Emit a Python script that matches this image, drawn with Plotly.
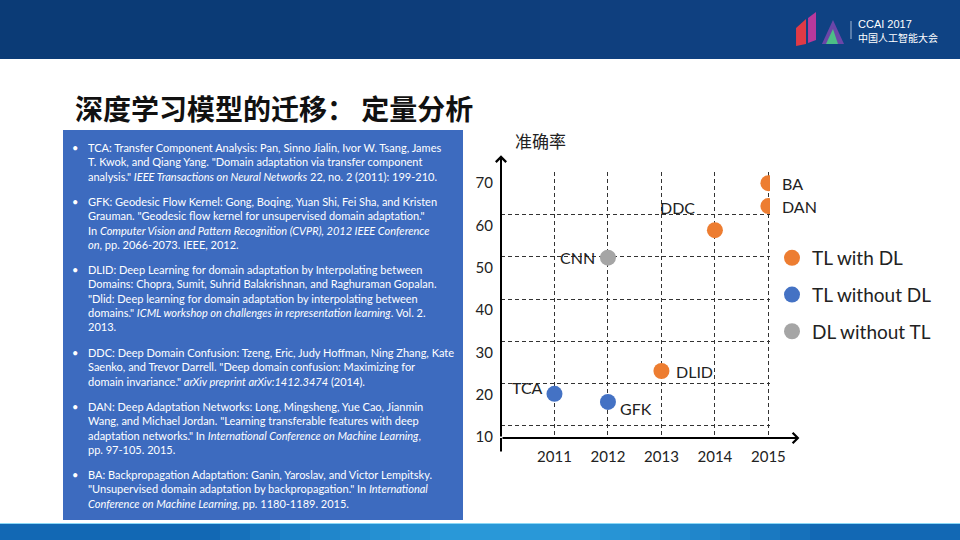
import plotly.graph_objects as go

# data
methods = ['TCA', 'GFK', 'CNN', 'DLID', 'DDC', 'DAN', 'BA']
years = [2011, 2012, 2012, 2013, 2014, 2015, 2015]
accuracy = [20.2, 18.3, 52.4, 25.6, 58.9, 64.6, 70.0]
groups = ['TL without DL', 'TL without DL', 'DL without TL', 'TL with DL',
          'TL with DL', 'TL with DL', 'TL with DL']
group_order = ['TL with DL', 'TL without DL', 'DL without TL']
year_ticks = [2011, 2012, 2013, 2014, 2015]
acc_ticks = [10, 20, 30, 40, 50, 60, 70]
grid_levels = [12.6, 22.6, 32.6, 42.6, 52.6, 62.6, 72.6]

refs = [
    'TCA: Transfer Component Analysis: Pan, Sinno Jialin, Ivor W. Tsang, James<br>'
    'T. Kwok, and Qiang Yang. "Domain adaptation via transfer component<br>'
    'analysis." <i>IEEE Transactions on Neural Networks</i> 22, no. 2 (2011): 199-210.',
    'GFK: Geodesic Flow Kernel: Gong, Boqing, Yuan Shi, Fei Sha, and Kristen<br>'
    'Grauman. "Geodesic flow kernel for unsupervised domain adaptation."<br>'
    'In <i>Computer Vision and Pattern Recognition (CVPR), 2012 IEEE Conference</i><br>'
    '<i>on</i>, pp. 2066-2073. IEEE, 2012.',
    'DLID: Deep Learning for domain adaptation by Interpolating between<br>'
    'Domains: Chopra, Sumit, Suhrid Balakrishnan, and Raghuraman Gopalan.<br>'
    '"Dlid: Deep learning for domain adaptation by interpolating between<br>'
    'domains." <i>ICML workshop on challenges in representation learning</i>. Vol. 2.<br>'
    '2013.',
    'DDC: Deep Domain Confusion: Tzeng, Eric, Judy Hoffman, Ning Zhang, Kate<br>'
    'Saenko, and Trevor Darrell. "Deep domain confusion: Maximizing for<br>'
    'domain invariance." <i>arXiv preprint arXiv:1412.3474</i> (2014).',
    'DAN: Deep Adaptation Networks: Long, Mingsheng, Yue Cao, Jianmin<br>'
    'Wang, and Michael Jordan. "Learning transferable features with deep<br>'
    'adaptation networks." In <i>International Conference on Machine Learning</i>,<br>'
    'pp. 97-105. 2015.',
    'BA: Backpropagation Adaptation: Ganin, Yaroslav, and Victor Lempitsky.<br>'
    '"Unsupervised domain adaptation by backpropagation." In <i>International</i><br>'
    '<i>Conference on Machine Learning</i>, pp. 1180-1189. 2015.',
]

colors = {'TL with DL': '#ED7D31', 'TL without DL': '#4472C4', 'DL without TL': '#A5A5A5'}
# where each point label sits relative to its dot: (xanchor, xshift, yshift)
label_pos = {'TCA': ('right', -9, 6), 'GFK': ('left', 10, -7), 'CNN': ('right', -11, 0),
             'DLID': ('left', 13, 0), 'DDC': ('right', -18, 23), 'DAN': ('left', 12, 0),
             'BA': ('left', 12, 0)}

W, H = 960, 540
def px(x):
    return x / W
def py(y):
    return 1 - y / H

latin = 'Lato'
cjk = 'Noto Sans CJK SC'
ink = '#222222'

fig = go.Figure()
for g in group_order:
    idx = [i for i, gg in enumerate(groups) if gg == g]
    fig.add_trace(go.Scatter(x=[years[i] for i in idx], y=[accuracy[i] for i in idx],
                             mode='markers', name=g, legendgroup=g, yaxis='y2',
                             marker=dict(color=colors[g], size=16, line=dict(width=0))))

for m, x, y in zip(methods, years, accuracy):
    xa, xs, ys = label_pos[m]
    fig.add_annotation(x=x, y=y, xref='x', yref='y2', text=m, showarrow=False, xanchor=xa,
                       yanchor='middle', xshift=xs, yshift=ys,
                       font=dict(family=latin, size=16, color=ink))

# axis arrows (one end must stay inside the range or plotly hides the annotation)
y_lo, y_hi = 9.76, 72.65
arrow = dict(xref='x', yref='y', axref='x', ayref='y', text='', showarrow=True, arrowsize=1,
             arrowwidth=2, arrowcolor='black', standoff=0, startstandoff=0)
fig.add_annotation(x=2015.58, y=y_lo, ax=2010, ay=y_lo, arrowhead=4, **arrow)
fig.add_annotation(x=2010, y=76.6, ax=2010, ay=y_lo, arrowhead=4, **arrow)
fig.add_annotation(x=2010, y=y_lo, ax=2010, ay=6.2, arrowhead=0, **arrow)
fig.add_annotation(x=px(540), y=py(141), xref='paper', yref='paper', text='准确率', showarrow=False,
                   xanchor='center', yanchor='middle', font=dict(family=cjk, size=17, color=ink))

# slide decoration: header band, footer band, reference box, logo
shapes = [
    dict(type='rect', x0=0, x1=1, y0=py(59), y1=1, fillcolor='#0b3b76', line_width=0),
    dict(type='rect', x0=0, x1=1, y0=0, y1=py(523), fillcolor='#1268b4', line_width=0),
    dict(type='rect', x0=0, x1=1, y0=py(524), y1=py(523), fillcolor='#8ad8f6', line_width=0),
    dict(type='rect', x0=px(63), x1=px(463), y0=py(520), y1=py(130), fillcolor='#3d6bbf', line_width=0),
    dict(type='line', x0=px(851), x1=px(851), y0=py(39), y1=py(21), line=dict(color='white', width=1)),
]
for k in range(8):
    shapes.append(dict(type='rect', x0=px(300 + 80 * k), x1=1, y0=py(59), y1=1,
                       fillcolor='#1a5aa0', opacity=0.07, line_width=0))
    shapes.append(dict(type='rect', x0=px(430 - 30 * k), x1=px(600 + 30 * k), y0=0, y1=py(524),
                       fillcolor='#3ab4f2', opacity=0.12, line_width=0))
logo = [
    ([(796, 28), (806, 19), (806, 44), (796, 46)], '#e03a46'),
    ([(808, 18), (816, 12), (816, 40), (808, 43)], '#b8399c'),
    ([(822, 44), (833, 20), (844, 44)], '#6b46a8'),
    ([(826, 44), (833, 29), (838, 44)], '#4cbf86'),
]
for pts, c in logo:
    path = 'M ' + ' L '.join(f'{px(a):.4f},{py(b):.4f}' for a, b in pts) + ' Z'
    shapes.append(dict(type='path', path=path, fillcolor=c, line_width=0))
for s in shapes:
    s['xref'] = 'paper'
    s['yref'] = 'paper'
    s['layer'] = 'below'
fig.update_layout(shapes=shapes)

fig.add_annotation(x=px(856), y=py(24), xref='paper', yref='paper', text='CCAI 2017', showarrow=False,
                   xanchor='left', yanchor='middle',
                   font=dict(family='Liberation Sans', size=11, color='white'))
fig.add_annotation(x=px(856), y=py(37), xref='paper', yref='paper', text='中国人工智能大会', showarrow=False,
                   xanchor='left', yanchor='middle', font=dict(family=cjk, size=10, color='white'))
fig.add_annotation(x=px(73), y=py(108), xref='paper', yref='paper', text='<b>深度学习模型的迁移： 定量分析</b>',
                   showarrow=False, xanchor='left', yanchor='middle',
                   font=dict(family=cjk, size=28, color='#111111'))

ref_tops = [139, 193, 261, 344, 398, 466]
for t, top in zip(refs, ref_tops):
    fig.add_annotation(x=px(70), y=py(top), xref='paper', yref='paper', text='•', showarrow=False,
                       xanchor='left', yanchor='top', font=dict(family=latin, size=11, color='white'))
    fig.add_annotation(x=px(86), y=py(top), xref='paper', yref='paper', text=t, showarrow=False,
                       xanchor='left', yanchor='top', align='left',
                       font=dict(family=latin, size=11, color='white'))

dash_grid = dict(showgrid=True, gridcolor='#333333', griddash='4px,3px', gridwidth=1, zeroline=False)
fig.update_layout(
    width=W, height=H, margin=dict(l=0, r=0, t=0, b=0, autoexpand=False),
    paper_bgcolor='white', plot_bgcolor='white',
    xaxis=dict(domain=[px(501), px(770)], range=[2010, 2015.03], tickvals=year_ticks,
               ticks='outside', ticklen=5, tickcolor='rgba(0,0,0,0)', showline=False,
               tickfont=dict(family=latin, size=15, color=ink), **dash_grid),
    # grid-only axis
    yaxis=dict(domain=[py(438), py(172)], range=[y_lo, y_hi], tickvals=grid_levels,
               showticklabels=False, **dash_grid),
    # labelled accuracy axis
    yaxis2=dict(overlaying='y', side='left', anchor='x', range=[y_lo, y_hi], tickvals=acc_ticks,
                showgrid=False, zeroline=False, ticks='outside', ticklen=4,
                tickcolor='rgba(0,0,0,0)', tickfont=dict(family=latin, size=15, color=ink)),
    legend=dict(x=px(772), y=py(239), xanchor='left', yanchor='top', bgcolor='rgba(0,0,0,0)',
                font=dict(family=latin, size=19, color=ink), tracegroupgap=9),
    showlegend=True,
)

fig.write_html('out.html', config={'displayModeBar': False},
               post_script="document.body.style.margin='0';document.body.style.overflow='hidden';")
